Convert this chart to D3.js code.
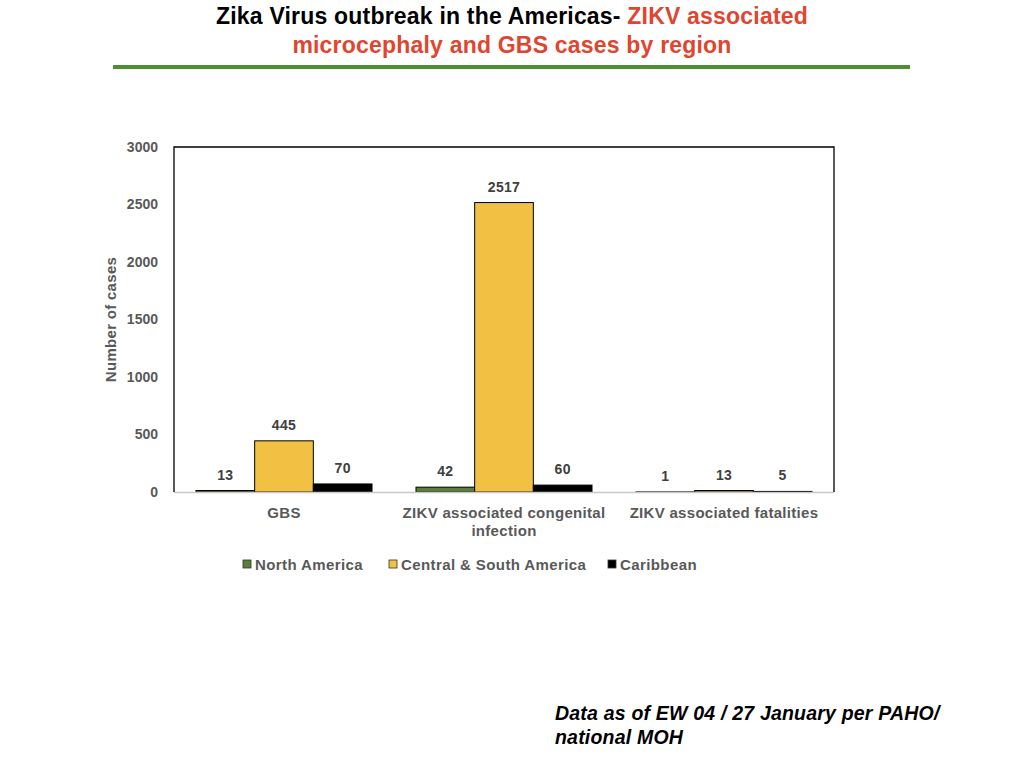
<!DOCTYPE html>
<html><head><meta charset="utf-8">
<script src="https://cdn.jsdelivr.net/npm/d3@7"></script>
<style>
body{margin:0;background:#fff;}
svg{display:block;}
</style></head>
<body>
<svg id="chart" width="1024" height="768"></svg>
<script>
const categories = ["GBS", "ZIKV associated congenital infection", "ZIKV associated fatalities"];
const categoryLines = [["GBS"], ["ZIKV associated congenital", "infection"], ["ZIKV associated fatalities"]];
const seriesNames = ["North America", "Central & South America", "Caribbean"];
const northAmerica = [13, 42, 1];
const centralSouthAmerica = [445, 2517, 13];
const caribbean = [70, 60, 5];
const yTicks = [0, 500, 1000, 1500, 2000, 2500, 3000];
const colors = ["#5b7f3b", "#f2c144", "#000000"];

const seriesValues = [northAmerica, centralSouthAmerica, caribbean];
const svg = d3.select("#chart");
const font = "Liberation Sans, Arial, Helvetica, sans-serif";
const gray = "#595959";

// Title
const title = svg.append("text").attr("x", 512).attr("y", 24).attr("text-anchor", "middle")
  .attr("font-family", font).attr("font-weight", "bold").attr("font-size", 23).attr("letter-spacing", 0.2);
title.append("tspan").attr("fill", "#000").text("Zika Virus outbreak in the Americas- ");
title.append("tspan").attr("fill", "#e0452f").text("ZIKV associated");
svg.append("text").attr("x", 512).attr("y", 53).attr("text-anchor", "middle")
  .attr("font-family", font).attr("font-weight", "bold").attr("font-size", 23).attr("letter-spacing", 0.2).attr("fill", "#e0452f")
  .text("microcephaly and GBS cases by region");
svg.append("rect").attr("x", 113).attr("y", 65).attr("width", 797).attr("height", 4).attr("fill", "#4e8f35");

// Plot
const L = 174, R = 834, T = 147, B = 492;
const y = d3.scaleLinear().domain([0, 3000]).range([B, T]);
const x0 = d3.scaleBand().domain(categories).range([L, R]).paddingInner(0.2).paddingOuter(0.1);
const x1 = d3.scaleBand().domain(seriesNames).range([0, x0.bandwidth()]);

// y axis tick labels
const yAxis = d3.axisLeft(y).tickValues(yTicks).tickFormat(d3.format("d")).tickSize(0).tickPadding(16);
const gy = svg.append("g").attr("transform", `translate(${L},0)`).call(yAxis);
gy.select(".domain").remove();
gy.selectAll("text").attr("font-family", font).attr("font-weight", "bold").attr("font-size", 14).attr("fill", gray);

// bars
const groups = svg.append("g").selectAll("g").data(categories).join("g")
  .attr("transform", d => `translate(${x0(d)},0)`);
groups.selectAll("rect").data((d, i) => seriesNames.map((s, j) => ({s, j, v: seriesValues[j][i]})))
  .join("rect")
  .attr("x", d => x1(d.s)).attr("width", x1.bandwidth())
  .attr("y", d => y(d.v)).attr("height", d => y(0) - y(d.v))
  .attr("fill", d => colors[d.j]).attr("stroke", "#000").attr("stroke-width", 1);
groups.selectAll("text").data((d, i) => seriesNames.map((s, j) => ({s, j, v: seriesValues[j][i]})))
  .join("text")
  .attr("x", d => x1(d.s) + x1.bandwidth() / 2).attr("y", d => y(d.v) - 11)
  .attr("text-anchor", "middle").attr("font-family", font).attr("font-weight", "bold")
  .attr("font-size", 14).attr("letter-spacing", 0.3).attr("fill", "#404040").text(d => d.v);

// frame
svg.append("line").attr("x1", L).attr("x2", R).attr("y1", B + 0.5).attr("y2", B + 0.5).attr("stroke", "#c8c8c8").attr("stroke-width", 1.5);
svg.append("path").attr("d", `M${L},${B}V${T}H${R}V${B}`).attr("fill", "none").attr("stroke", "#000").attr("stroke-width", 1.3);

// x labels
const xl = svg.append("g").selectAll("text").data(categories).join("text")
  .attr("x", d => x0(d) + x0.bandwidth() / 2).attr("y", 518).attr("text-anchor", "middle")
  .attr("font-family", font).attr("font-weight", "bold").attr("font-size", 15).attr("letter-spacing", 0.3).attr("fill", gray);
xl.each(function(d, i) {
  categoryLines[i].forEach((ln, k) => {
    d3.select(this).append("tspan").attr("x", x0(d) + x0.bandwidth() / 2).attr("dy", k === 0 ? 0 : 18).text(ln);
  });
});

// y title
svg.append("text").attr("transform", `translate(116,${(T + B) / 2}) rotate(-90)`).attr("text-anchor", "middle")
  .attr("font-family", font).attr("font-weight", "bold").attr("font-size", 15).attr("letter-spacing", 0.3).attr("fill", gray)
  .text("Number of cases");

// legend
const legX = [243, 389, 608];
const leg = svg.append("g").selectAll("g").data(seriesNames).join("g")
  .attr("transform", (d, i) => `translate(${legX[i]},560)`);
leg.append("rect").attr("width", 8).attr("height", 8).attr("fill", (d, i) => colors[i]).attr("stroke", "#333").attr("stroke-width", 0.8);
leg.append("text").attr("x", 12).attr("y", 9.5).attr("font-family", font).attr("font-weight", "bold")
  .attr("font-size", 15).attr("letter-spacing", 0.4).attr("fill", gray).text(d => d);

// footnote
const fn = svg.append("text").attr("font-family", font).attr("font-weight", "bold").attr("font-style", "italic")
  .attr("font-size", 19.5).attr("letter-spacing", 0.2).attr("fill", "#000");
fn.append("tspan").attr("x", 555).attr("y", 720).text("Data as of EW 04 / 27 January per PAHO/");
fn.append("tspan").attr("x", 555).attr("y", 744).text("national MOH");
</script>
</body></html>
